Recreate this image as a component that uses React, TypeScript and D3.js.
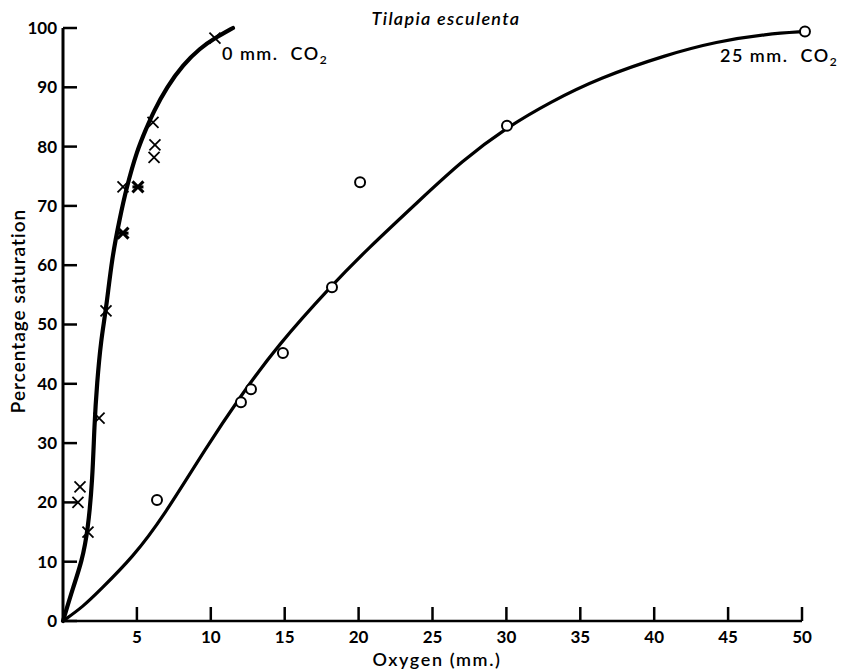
import React from 'react'
import * as d3 from 'd3'

// 0 mm CO2 observations (crosses)
const crossX = [1.01, 1.15, 1.69, 2.44, 2.91, 4.06, 4.06, 5.07, 6.16, 6.22, 6.09, 10.28]
const crossY = [20.0, 22.6, 15.0, 34.2, 52.3, 65.4, 73.2, 73.2, 78.2, 80.3, 84.1, 98.3]

// 25 mm CO2 observations (circles)
const circleX = [6.36, 12.04, 12.72, 14.88, 18.2, 20.1, 30.04, 50.2]
const circleY = [20.4, 36.9, 39.1, 45.2, 56.3, 74.0, 83.5, 99.4]

// hand drawn curves
const curve0X = [0, 0.7, 1.27, 1.69, 2.0, 2.12, 2.3, 2.57, 2.91, 3.32, 3.86, 4.26, 5.01, 5.68, 6.09, 7.04, 8.12, 9.27, 10.28, 11.5]
const curve0Y = [0, 5.8, 10.0, 15.3, 24.0, 33.0, 40.1, 47.4, 52.4, 61.4, 68.1, 72.7, 79.4, 83.3, 85.7, 90.1, 93.8, 96.6, 98.3, 100]
const curve25X = [0, 1.35, 2.5, 4.74, 6.77, 9.72, 11.98, 14.46, 18.29, 20.55, 24.15, 27.0, 30.0, 32.95, 36.3, 40.85, 44.2, 47.6, 50.2]
const curve25Y = [0, 2.4, 5.2, 10.8, 17.5, 29.4, 37.8, 46.3, 56.9, 62.6, 71.0, 77.6, 83.2, 87.5, 91.6, 95.5, 97.7, 99.0, 99.4]

const xTicks = [5, 10, 15, 20, 25, 30, 35, 40, 45, 50]
const yTicks = [0, 10, 20, 30, 40, 50, 60, 70, 80, 90, 100]

const W = 842
const H = 670
const FONT = 'Lato, "Open Sans", sans-serif'

export default function App() {
  const x = d3.scaleLinear().domain([0, 50]).range([63, 802])
  const y = d3.scaleLinear().domain([0, 100]).range([621, 28])

  const line = d3
    .line<[number, number]>()
    .x(d => x(d[0]))
    .y(d => y(d[1]))
    .curve(d3.curveBasis)

  const c0 = line(curve0X.map((v, i) => [v, curve0Y[i]]))
  const c25 = line(curve25X.map((v, i) => [v, curve25Y[i]]))

  // the two crosses that print heavier in the original
  const heavy = new Set([5, 7])

  return (
    <svg width={W} height={H} style={{ position: 'absolute', left: 0, top: 0, background: '#fff' }} fontFamily={FONT}>
      {/* axes */}
      <line x1={x(0)} x2={x(0)} y1={y(100)} y2={y(0) + 1} stroke="#000" strokeWidth={3} />
      <line x1={x(0)} x2={x(50)} y1={y(0)} y2={y(0)} stroke="#000" strokeWidth={2.5} />
      {yTicks.map(t => (
        <g key={'y' + t}>
          <line x1={x(0)} x2={x(0) + 14} y1={y(t)} y2={y(t)} stroke="#000" strokeWidth={2.5} />
          <text x={57} y={y(t)} dy="0.35em" textAnchor="end" fontSize={17} fontWeight={700}>
            {t}
          </text>
        </g>
      ))}
      {xTicks.map(t => (
        <g key={'x' + t}>
          <line x1={x(t)} x2={x(t)} y1={y(0)} y2={y(0) - 14} stroke="#000" strokeWidth={2.5} />
          <text x={x(t)} y={643} textAnchor="middle" fontSize={17} fontWeight={700}>
            {t}
          </text>
        </g>
      ))}

      <text x={437} y={666} textAnchor="middle" fontSize={18} fontWeight={600} letterSpacing={1.6}>
        Oxygen (mm.)
      </text>
      <text transform={`translate(25,311) rotate(-90)`} textAnchor="middle" fontSize={19} fontWeight={600} letterSpacing={1}>
        Percentage saturation
      </text>
      <text x={446} y={25} textAnchor="middle" fontSize={18} fontStyle="italic" fontWeight={600} letterSpacing={1.3}>
        Tilapia esculenta
      </text>

      {/* curves */}
      <path d={c0 || ''} fill="none" stroke="#000" strokeWidth={4.2} strokeLinecap="round" />
      <path d={c25 || ''} fill="none" stroke="#000" strokeWidth={3.2} strokeLinecap="round" />

      {/* markers */}
      {crossX.map((v, i) => {
        const cx = x(v)
        const cy = y(crossY[i])
        const s = 5.5
        const w = heavy.has(i) ? 3 : 1.8
        return (
          <g key={'c' + i} stroke="#000" strokeWidth={w}>
            <line x1={cx - s} x2={cx + s} y1={cy - s} y2={cy + s} />
            <line x1={cx - s} x2={cx + s} y1={cy + s} y2={cy - s} />
            {heavy.has(i) && <line x1={cx - s} x2={cx + s} y1={cy} y2={cy} />}
          </g>
        )
      })}
      {circleX.map((v, i) => (
        <circle key={'o' + i} cx={x(v)} cy={y(circleY[i])} r={5} fill="#fff" stroke="#000" strokeWidth={2} />
      ))}

      {/* curve labels */}
      <text x={222} y={60} fontSize={18} fontWeight={600} letterSpacing={1.5} style={{ whiteSpace: 'pre' }}>
        {'0 mm.  CO'}
        <tspan fontSize={12} dy={4}>2</tspan>
      </text>
      <text x={720} y={62} fontSize={18} fontWeight={600} letterSpacing={1.5} style={{ whiteSpace: 'pre' }}>
        {'25 mm.  CO'}
        <tspan fontSize={12} dy={4}>2</tspan>
      </text>
    </svg>
  )
}
